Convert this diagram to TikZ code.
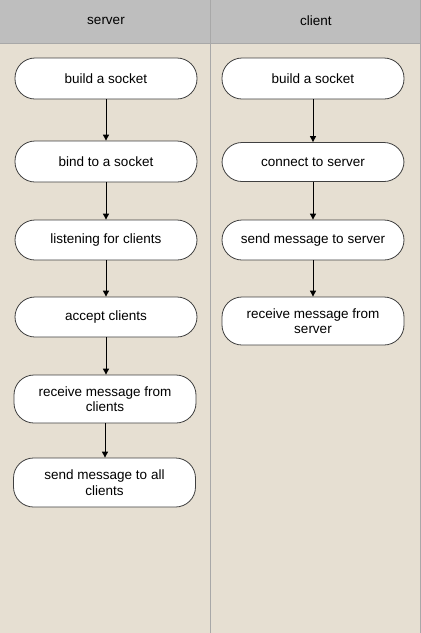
\documentclass[tikz,border=0pt]{standalone}
\usepackage{fontspec}
\setmainfont{Liberation Sans}
\usetikzlibrary{arrows.meta}
\definecolor{hdr}{HTML}{BEBEBE}
\definecolor{bg}{HTML}{E6DFD2}
\definecolor{lane}{HTML}{A8A8A8}
\definecolor{bord}{HTML}{404040}
\begin{document}
\begin{tikzpicture}[x=1pt,y=-1pt,
  stepbox/.style={draw=bord,line width=0.8pt,fill=white,rounded corners=20pt,
    minimum width=182pt,inner sep=2pt,align=center,
    font=\fontsize{13.5}{15.5}\selectfont},
  flow/.style={line width=0.9pt,-{Triangle[width=6pt,length=6pt]}},
  lbl/.style={font=\fontsize{13.5}{15.5}\selectfont}]
\useasboundingbox (0,0) rectangle (421,633);
\fill[bg] (0,0) rectangle (421,633);
\fill[hdr] (0,0) rectangle (421,43);
\draw[lane,line width=1pt] (0,43) -- (421,43);
\draw[lane,line width=1pt] (210.5,0) -- (210.5,633);
\draw[lane,line width=1pt] (420.5,0) -- (420.5,633);
\node[lbl] (hs) at (106,21) {server};
\node[lbl] (hc) at (316,21) {client};
% server
\node[stepbox,minimum height=41pt] (s1) at (106,78.5) {build a socket};
\node[stepbox,minimum height=41pt] (s2) at (106,161.5) {bind to a socket};
\node[stepbox,minimum height=40pt] (s3) at (106,240) {listening for clients};
\node[stepbox,minimum height=40pt] (s4) at (106,317) {accept clients};
\node[stepbox,minimum height=48pt] (s5) at (105,399) {receive message from\\clients};
\node[stepbox,minimum height=49pt] (s6) at (104.5,482.5) {send message to all\\clients};
% client
\node[stepbox,minimum height=41pt] (c1) at (313,78.5) {build a socket};
\node[stepbox,minimum height=39pt] (c2) at (313,162) {connect to server};
\node[stepbox,minimum height=40pt] (c3) at (313,240) {send message to server};
\node[stepbox,minimum height=48pt] (c4) at (313,321) {receive message from\\server};
\foreach \a/\b in {s1/s2,s2/s3,s3/s4,s4/s5,s5/s6,c1/c2,c2/c3,c3/c4}
  \draw[flow] (\a.south) -- (\a.south |- \b.north);
\end{tikzpicture}
\end{document}
